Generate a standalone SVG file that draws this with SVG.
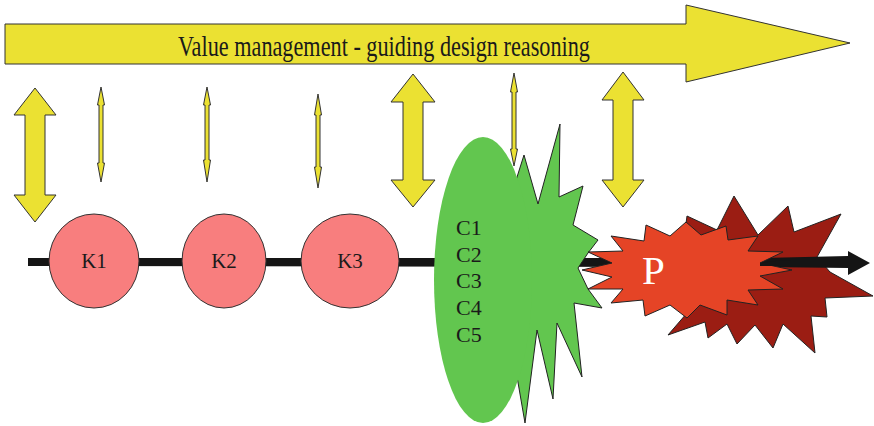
<svg xmlns="http://www.w3.org/2000/svg" width="874" height="426" viewBox="0 0 874 426">
  <style>
    .yel { fill: #ebe132; stroke: #333; stroke-width: 1; stroke-linejoin: miter; }
    .knode { fill: #f87e7e; stroke: #333; stroke-width: 1; }
    .lbl { font-family: "Liberation Serif", "Times New Roman", serif; fill: #1a1a1a; }
    .star { stroke: #222; stroke-width: 1; stroke-linejoin: miter; }
  </style>

  <!-- Value management banner arrow -->
  <g id="value-management">
    <polygon class="yel" points="5,24 686,24 686,5 850,43 686,82 686,64 5,64"/>
    <text class="lbl" x="178" y="56" font-size="30" textLength="412" lengthAdjust="spacingAndGlyphs">Value management - guiding design reasoning</text>
  </g>

  <!-- Two-way arrows between the banner and the process -->
  <g id="links">
    <polygon class="yel" points="35,88 56,115 45,115 45,195 56,195 35,222 14,195 25,195 25,115 14,115"/>
    <polygon class="yel" points="101,87 104.5,105 103,105 103,163 104.5,163 101,182 97.5,163 99,163 99,105 97.5,105"/>
    <polygon class="yel" points="207,87 210.5,105 209,105 209,160 210.5,160 207,182 203.5,160 205,160 205,105 203.5,105"/>
    <polygon class="yel" points="318,94 321.5,115 320,115 320,167 321.5,167 318,188 314.5,167 316,167 316,115 314.5,115"/>
    <polygon class="yel" points="413,74 435,102 423,102 423,180 435,180 413,207 391,180 403,180 403,102 391,102"/>
    <polygon class="yel" points="514,73 517.5,92 516,92 516,149 517.5,149 514,166 510.5,149 512,149 512,92 510.5,92"/>
    <polygon class="yel" points="623,72 644,100 633,100 633,180 644,180 623,207 602,180 613,180 613,100 602,100"/>
  </g>

  <!-- Back burst behind P -->
  <g id="p-burst-back">
    <polygon class="star" fill="#9b1d13" points="687,216 717,230 734,196 758,235 788,206 794,232 841,214 817,257 830,272 873,296 825,298 827,317 811,316 815,353 783,324 773,348 755,325 737,344 727,324 708,338 705,322 668,335 687,313 680,270"/>
  </g>

  <!-- Process line -->
  <g id="connectors">
    <polygon fill="#151515" points="28,258 760,258 848,256 848,251 870,263 848,275 848,268 760,267 28,266"/>
  </g>

  <g id="K1">
    <ellipse class="knode" cx="94" cy="261" rx="45" ry="47"/>
    <text class="lbl" x="94" y="268" font-size="21" text-anchor="middle">K1</text>
  </g>
  <g id="K2">
    <ellipse class="knode" cx="224" cy="261" rx="42" ry="47"/>
    <text class="lbl" x="224" y="268" font-size="21" text-anchor="middle">K2</text>
  </g>
  <g id="K3">
    <ellipse class="knode" cx="350" cy="261" rx="49" ry="47"/>
    <text class="lbl" x="350" y="268" font-size="21" text-anchor="middle">K3</text>
  </g>

  <!-- Concept cluster -->
  <g id="C">
    <polygon class="star" fill="#62c64f" points="480,190 505,215 524,155 538,204 560,124 559,197 583,186 573,225 598,240 588,253 578,268 588,289 602,308 574,303 582,377 557,323 553,399 537,330 525,423 515,365 480,360"/>
    <ellipse cx="483" cy="280" rx="49" ry="143" fill="#62c64f"/>
    <text class="lbl" x="456" y="235" font-size="22">C1</text>
    <text class="lbl" x="456" y="262" font-size="22">C2</text>
    <text class="lbl" x="456" y="288" font-size="22">C3</text>
    <text class="lbl" x="456" y="315" font-size="22">C4</text>
    <text class="lbl" x="456" y="342" font-size="22">C5</text>
  </g>

  <!-- Product burst -->
  <g id="P">
    <polygon class="star" fill="#e54426" points="612,263 588,252 623,251 611,236 644,241 646,225 670,236 686,222 701,235 726,226 728,240 758,236 748,251 783,252 760,263 792,270 760,276 783,289 748,290 758,305 727,300 727,315 700,305 687,318 670,305 645,316 643,300 611,303 623,289 588,289 612,277 582,270"/>
    <polygon fill="#151515" points="760,263 783,260 792,261 792,266 783,266 760,266"/>
    <text x="642" y="284" font-size="41" fill="#ffffff" font-family="Liberation Serif, Times New Roman, serif">P</text>
  </g>
</svg>
